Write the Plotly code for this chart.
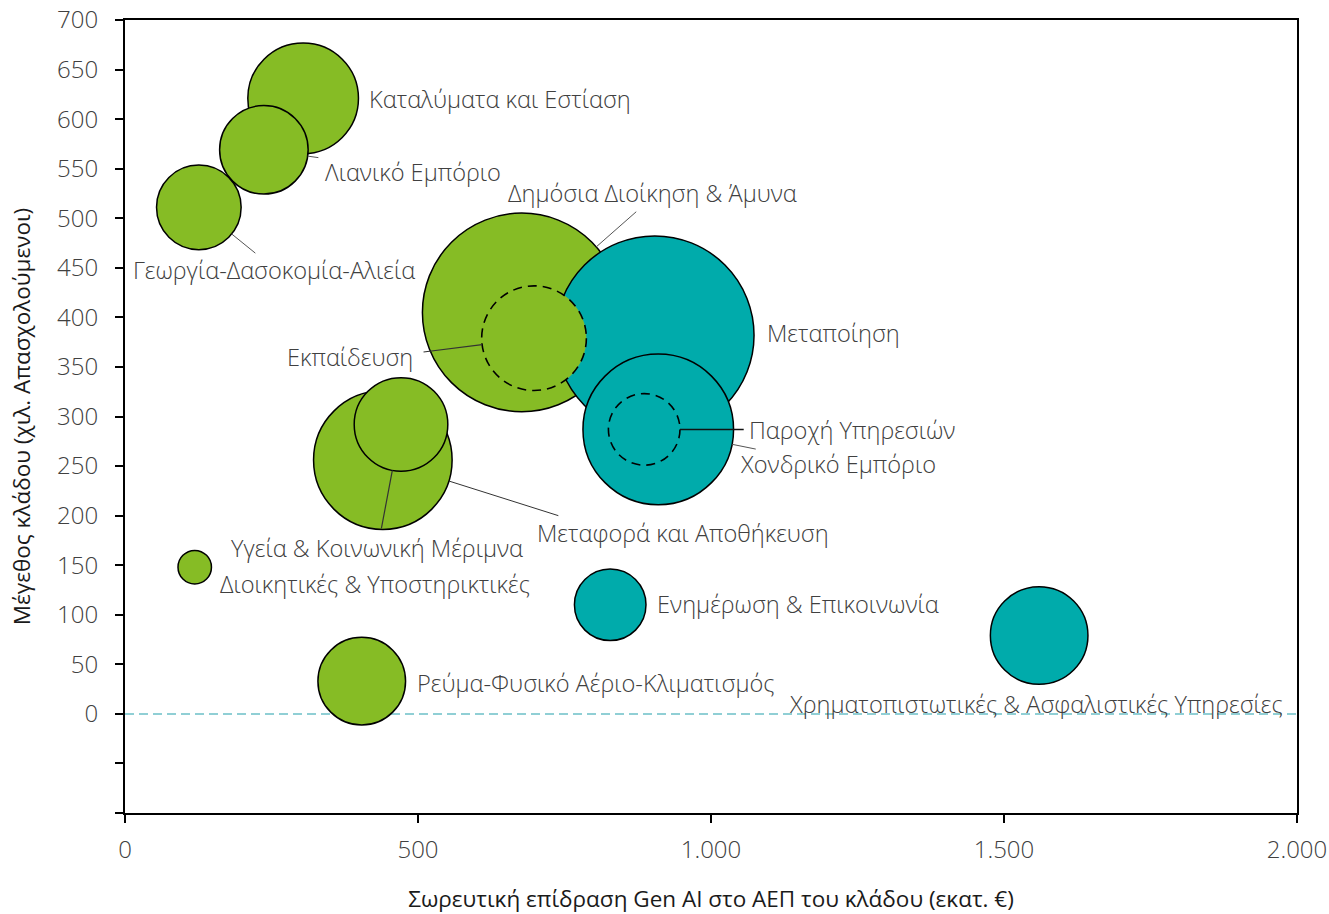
import plotly.graph_objects as go

# ---------------- data ----------------
sectors = [
    "Καταλύματα και Εστίαση",
    "Λιανικό Εμπόριο",
    "Γεωργία-Δασοκομία-Αλιεία",
    "Δημόσια Διοίκηση & Άμυνα",
    "Μεταποίηση",
    "Εκπαίδευση",
    "Χονδρικό Εμπόριο",
    "Παροχή Υπηρεσιών",
    "Μεταφορά και Αποθήκευση",
    "Υγεία & Κοινωνική Μέριμνα",
    "Διοικητικές & Υποστηρικτικές",
    "Ρεύμα-Φυσικό Αέριο-Κλιματισμός",
    "Ενημέρωση & Επικοινωνία",
    "Χρηματοπιστωτικές & Ασφαλιστικές Υπηρεσίες",
]
gen_ai_impact = [304, 237, 126, 677, 904, 698, 910, 886, 440, 471, 119, 404, 828, 1560]   # εκατ. €
employment = [621, 569, 511, 405, 382, 379, 287, 287, 256, 292, 148, 33, 110, 79]         # χιλ.
bubble_value = [306, 196, 179, 986, 986, 274, 567, 128, 480, 219, 28, 192, 128, 238]
group = ["A", "A", "A", "A", "B", "A", "B", "B", "A", "A", "A", "A", "B", "B"]
dashed = [False, False, False, False, False, True, False, True, False, False, False, False, False, False]

x_tick_vals = [0, 500, 1000, 1500, 2000]
x_tick_text = ["0", "500", "1.000", "1.500", "2.000"]
y_tick_vals = [-100, -50, 0, 50, 100, 150, 200, 250, 300, 350, 400, 450, 500, 550, 600, 650, 700]
y_tick_text = ["", "", "0", "50", "100", "150", "200", "250", "300", "350", "400", "450",
               "500", "550", "600", "650", "700"]

x_title = "Σωρευτική επίδραση Gen AI στο ΑΕΠ του κλάδου (εκατ. €)"
y_title = "Μέγεθος κλάδου (χιλ. Απασχολούμενοι)"

# ---------------- style ----------------
COLORS = {"A": "#86BC25", "B": "#00ABAB"}
TEXT = "#404040"
FONT = "Open Sans"
LBL = 23.6
TITLE = 22.5
TICK = 24
SIZEREF = 0.05  # area mode: radius_px = sqrt(v / (2*sizeref))

def radius_px(v):
    return (v / (2 * SIZEREF)) ** 0.5

# label placement: (xanchor, xshift, yshift) relative to bubble centre, in px
label_pos = {
    "Καταλύματα και Εστίαση": ("left", 64, -1),
    "Λιανικό Εμπόριο": ("left", 59, -22),
    "Γεωργία-Δασοκομία-Αλιεία": ("center", 75, -63),
    "Δημόσια Διοίκηση & Άμυνα": ("center", 131, 119),
    "Μεταποίηση": ("left", 110, 2),
    "Εκπαίδευση": ("right", -119, -19),
    "Χονδρικό Εμπόριο": ("left", 80, -35),
    "Παροχή Υπηρεσιών": ("left", 103, -1),
    "Μεταφορά και Αποθήκευση": ("left", 152, -73),
    "Υγεία & Κοινωνική Μέριμνα": ("center", -24, -124),
    "Διοικητικές & Υποστηρικτικές": ("left", 23, -17),
    "Ρεύμα-Φυσικό Αέριο-Κλιματισμός": ("left", 53, -2),
    "Ενημέρωση & Επικοινωνία": ("left", 45, 1),
    "Χρηματοπιστωτικές & Ασφαλιστικές Υπηρεσίες": ("center", -3, -68),
}
# leader lines: tail offset (ax, ay) in px from bubble centre, colour, width
leaders = {
    "Λιανικό Εμπόριο": (56, 8, "#555555", 1),
    "Γεωργία-Δασοκομία-Αλιεία": (58, 47, "#555555", 1),
    "Δημόσια Διοίκηση & Άμυνα": (116, -102, "#555555", 1),
    "Εκπαίδευση": (-112, 14, "#333333", 1.2),
    "Παροχή Υπηρεσιών": (101, 0, "#111111", 1.5),
    "Χονδρικό Εμπόριο": (99, 20, "#555555", 1),
    "Μεταφορά και Αποθήκευση": (177, 56, "#333333", 1),
    "Υγεία & Κοινωνική Μέριμνα": (-20, 106, "#333333", 1.2),
}

fig = go.Figure()

solid_idx = [i for i in range(len(sectors)) if not dashed[i]]
fig.add_trace(go.Scatter(
    x=[gen_ai_impact[i] for i in solid_idx],
    y=[employment[i] for i in solid_idx],
    mode="markers",
    text=[sectors[i] for i in solid_idx],
    marker=dict(
        size=[bubble_value[i] for i in solid_idx],
        sizemode="area",
        sizeref=SIZEREF,
        color=[COLORS[group[i]] for i in solid_idx],
        opacity=1,
        line=dict(color="#000000", width=1.5),
    ),
    showlegend=False,
    hoverinfo="text",
))

shapes = []
# zero reference line
shapes.append(dict(type="line", xref="paper", yref="y", x0=0, x1=1, y0=0, y1=0,
                   line=dict(color="#6CC0C8", width=1.5, dash="9px,5px"), layer="below"))
# dashed-outline bubbles
for i in range(len(sectors)):
    if dashed[i]:
        r = radius_px(bubble_value[i])
        shapes.append(dict(type="circle", xref="x", yref="y",
                           xsizemode="pixel", ysizemode="pixel",
                           xanchor=gen_ai_impact[i], yanchor=employment[i],
                           x0=-r, x1=r, y0=-r, y1=r,
                           fillcolor=COLORS[group[i]],
                           line=dict(color="#000000", width=1.6, dash="9px,6px"),
                           layer="above"))

annotations = []
for i, name in enumerate(sectors):
    if name in leaders:
        ax, ay, col, w = leaders[name]
        annotations.append(dict(x=gen_ai_impact[i], y=employment[i], xref="x", yref="y",
                                text=" ", font=dict(size=1), showarrow=True, arrowhead=0,
                                arrowwidth=w, arrowcolor=col, ax=ax, ay=ay,
                                standoff=radius_px(bubble_value[i])))
    xa, xs, ys = label_pos[name]
    annotations.append(dict(x=gen_ai_impact[i], y=employment[i], xref="x", yref="y",
                            text=name, showarrow=False, xanchor=xa, yanchor="middle",
                            xshift=xs, yshift=ys,
                            font=dict(family=FONT, size=LBL, color=TEXT, weight=300)))

fig.update_layout(
    width=1329, height=914,
    margin=dict(l=125, r=32, t=20, b=101),
    paper_bgcolor="white", plot_bgcolor="white",
    font=dict(family=FONT, color=TEXT, size=LBL),
    shapes=shapes, annotations=annotations,
    showlegend=False,
)
fig.update_xaxes(
    range=[0, 2000], tickvals=x_tick_vals, ticktext=x_tick_text, automargin=False,
    showgrid=False, zeroline=False, showline=True, linecolor="#000000", linewidth=2,
    mirror=True, ticks="outside", ticklen=8, tickwidth=2, tickcolor="#000000",
    tickfont=dict(family=FONT, size=TICK, color=TEXT, weight=300), ticklabelstandoff=6,
    title=dict(text=x_title, font=dict(family=FONT, size=TITLE, color="#1a1a1a"), standoff=30),
)
fig.update_yaxes(
    range=[-100, 700], tickvals=y_tick_vals, ticktext=y_tick_text, automargin=False,
    showgrid=False, zeroline=False, showline=True, linecolor="#000000", linewidth=2,
    mirror=True, ticks="outside", ticklen=8, tickwidth=2, tickcolor="#000000",
    tickfont=dict(family=FONT, size=TICK, color=TEXT, weight=300), ticklabelstandoff=12,
    title=dict(text=y_title, font=dict(family=FONT, size=TITLE, color="#1a1a1a"), standoff=20),
)

fig.write_html("out.html", config={"displayModeBar": False},
               post_script="document.body.style.margin='0';")
